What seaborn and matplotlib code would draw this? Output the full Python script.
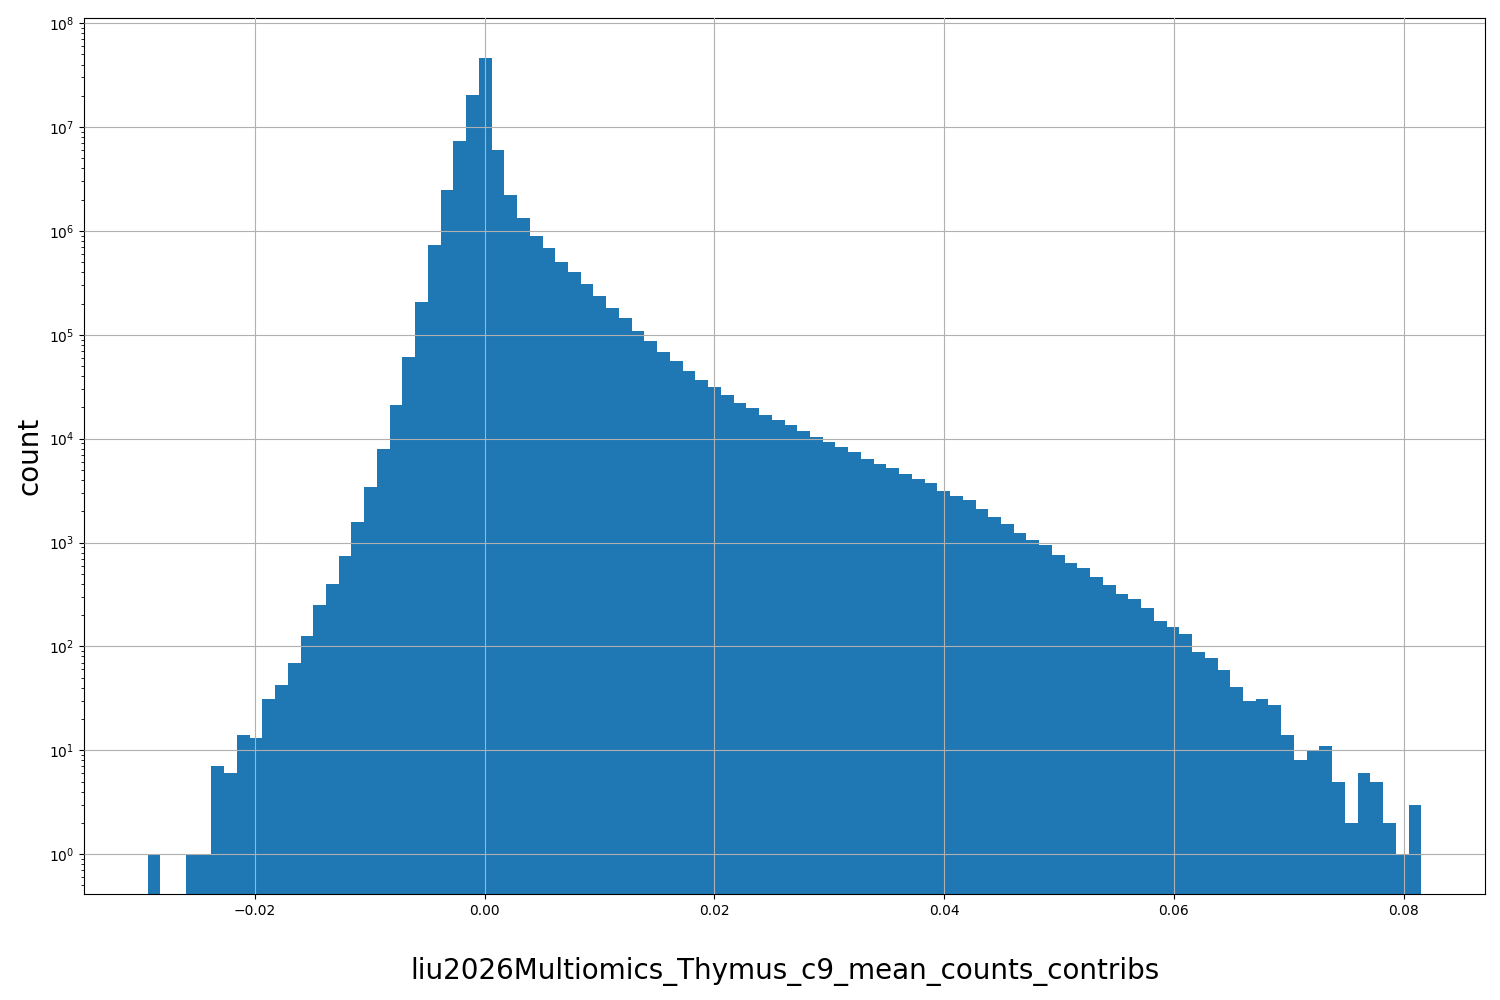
import numpy as np
import pandas as pd
import matplotlib
matplotlib.use("Agg")
import matplotlib.pyplot as plt
import seaborn as sns

# Data: 100 equal-width bins between the data min and max
x_min = -0.02933
x_max = 0.08155
counts = [
    1, 0, 0, 1, 1, 7, 6, 14, 13, 31,
    43, 70, 125, 253, 395, 750, 1570, 3440, 7890, 20900,
    60700, 205000, 740000, 2500000, 7350000, 20400000, 46400000, 6030000, 2240000, 1320000,
    900000, 680000, 506000, 399000, 305000, 234000, 183000, 144000, 110000, 86300,
    67600, 55500, 44400, 36400, 31200, 26100, 21900, 19600, 16800, 15000,
    13400, 11800, 10300, 9230, 8260, 7400, 6330, 5660, 5190, 4540,
    4060, 3720, 3120, 2790, 2550, 2090, 1750, 1500, 1230, 1050,
    943, 755, 632, 566, 464, 389, 319, 285, 234, 175,
    154, 132, 88, 77, 59, 41, 30, 31, 27, 14,
    8, 10, 11, 5, 2, 6, 5, 2, 1, 3,
]
x_label = "liu2026Multiomics_Thymus_c9_mean_counts_contribs"
y_label = "count"

edges = np.linspace(x_min, x_max, len(counts) + 1)
centers = (edges[:-1] + edges[1:]) / 2
df = pd.DataFrame({"value": centers, "count": np.array(counts, dtype=float)})

fig = plt.figure(figsize=(15, 10), dpi=100)
ax = fig.add_axes([0.056, 0.106, 0.934, 0.876])

sns.histplot(data=df, x="value", weights="count", bins=list(edges), ax=ax,
             color="#1f77b4", alpha=1.0, linewidth=0)

ax.set_yscale("log")
pos = df["count"][df["count"] > 0]
lo, hi = np.log10(pos.min()), np.log10(pos.max())
m = 0.05 * (hi - lo)
ax.set_ylim(10 ** (lo - m), 10 ** (hi + m))
xm = 0.05 * (x_max - x_min)
ax.set_xlim(x_min - xm, x_max + xm)

ax.grid(True, which="major", color="#b0b0b0", linewidth=0.8)
ax.set_axisbelow(False)

ax.set_xlabel(x_label, fontsize=20, labelpad=28)
ax.set_ylabel(y_label, fontsize=20, labelpad=4)

fig.savefig("out.png", dpi=100)
